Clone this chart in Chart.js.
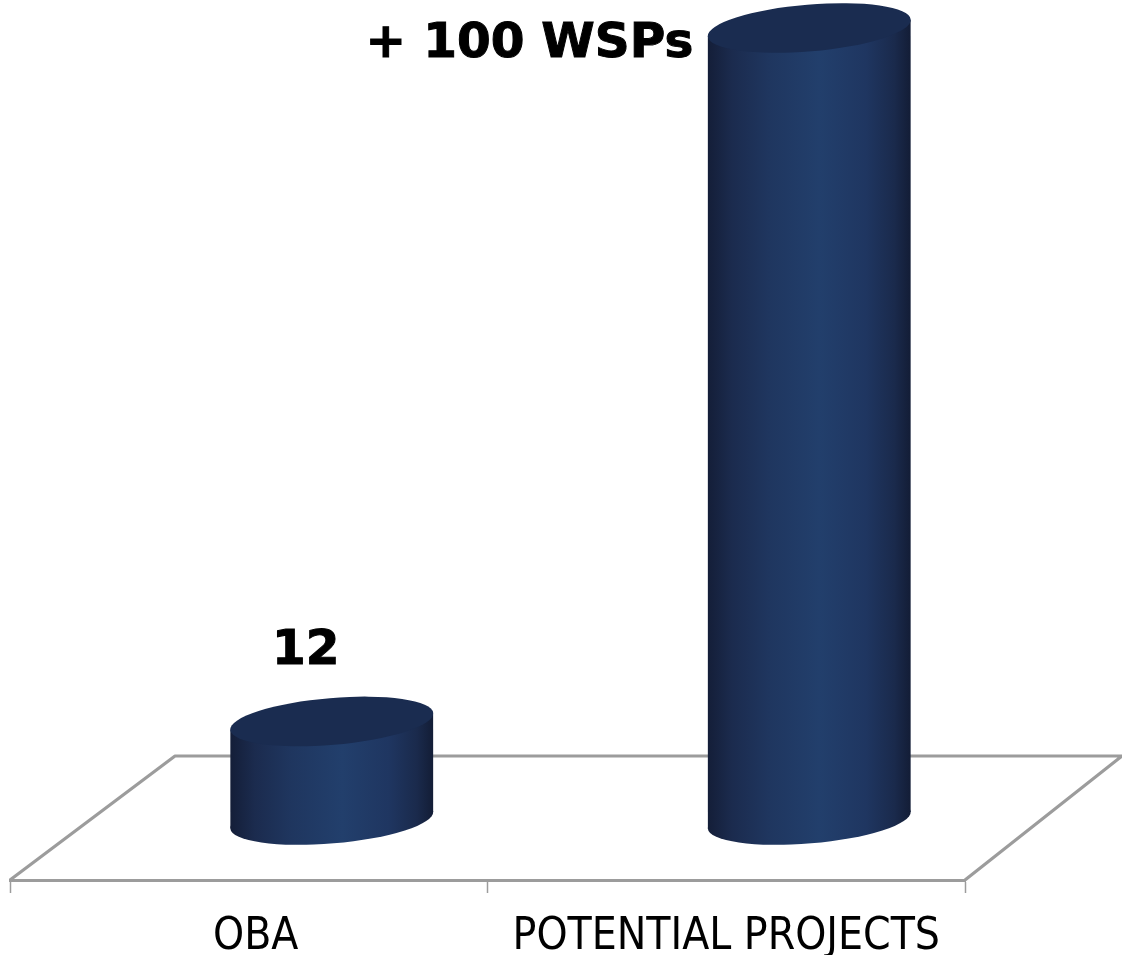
<!DOCTYPE html>
<html>
<head>
<meta charset="utf-8">
<style>html,body{margin:0;padding:0;background:#fff}canvas{display:block}</style>
<script src="https://cdn.jsdelivr.net/npm/chart.js@4/dist/chart.umd.min.js"></script>
</head>
<body>
<canvas id="c" width="1122" height="955"></canvas>
<script>
const categories = ['OBA', 'POTENTIAL PROJECTS'];
const values = [12, 100];
const valueLabels = ['12', '+ 100 WSPs'];

const DEPTH_X = 83, BASE_DROP = 4, ELL_A = 101.8, ELL_B = 23.4, ELL_ROT = -4.8 * Math.PI / 180, X_EXT = 101.4, TILT = 8;
const GRID = '#9c9c9c';

const scene = {
  id: 'scene',
  beforeDraw(chart) {
    const x = chart.scales.x, items = x.getLabelItems(chart.chartArea), shift = [7, 0];
    items.forEach((it, i) => { it.options.translation[0] = x.getPixelForTick(i) + shift[i]; });
  },
  beforeDatasetsDraw(chart) {
    const { ctx, chartArea: a } = chart;
    const backY = 756, backL = a.left + 165, backR = a.right + 157;
    ctx.save();
    ctx.strokeStyle = GRID; ctx.lineWidth = 3.2; ctx.lineJoin = 'round';
    ctx.beginPath();
    ctx.moveTo(a.left, a.bottom); ctx.lineTo(backL, backY); ctx.lineTo(backR, backY);
    ctx.moveTo(a.right, a.bottom); ctx.lineTo(backR, backY);
    ctx.stroke();
    ctx.restore();
  },
  afterDatasetsDraw(chart) {
    const { ctx } = chart;
    const meta = chart.getDatasetMeta(0);
    meta.data.forEach((bar, i) => {
      const cx = bar.x + DEPTH_X, top = bar.y, bottom = bar.base + BASE_DROP;
      const g = ctx.createLinearGradient(cx - X_EXT, 0, cx + X_EXT, 0);
      g.addColorStop(0, '#141e38'); g.addColorStop(0.12, '#1b2b4e'); g.addColorStop(0.3, '#1f365f');
      g.addColorStop(0.55, '#223f6c'); g.addColorStop(0.78, '#1f3661'); g.addColorStop(0.92, '#1a2a4c'); g.addColorStop(1, '#131d36');
      ctx.save();
      ctx.fillStyle = g;
      ctx.beginPath();
      ctx.ellipse(cx, bottom, ELL_A, ELL_B, ELL_ROT, 0, Math.PI * 2);
      ctx.fill();
      ctx.beginPath();
      ctx.moveTo(cx - X_EXT, top + TILT); ctx.lineTo(cx + X_EXT, top - TILT);
      ctx.lineTo(cx + X_EXT, bottom - TILT); ctx.lineTo(cx - X_EXT, bottom + TILT);
      ctx.closePath(); ctx.fill();
      ctx.fillStyle = '#1a2c50';
      ctx.beginPath();
      ctx.ellipse(cx, top, ELL_A, ELL_B, ELL_ROT, 0, Math.PI * 2);
      ctx.fill();
      ctx.restore();
    });
    ctx.save();
    ctx.fillStyle = '#000'; ctx.strokeStyle = '#000'; ctx.lineWidth = 1;
    ctx.font = 'bold 48.5px "DejaVu Sans"';
    ctx.textBaseline = 'alphabetic';
    ctx.textAlign = 'center';
    const x0 = meta.data[0].x + 57, y0 = meta.data[0].y - 57;
    ctx.fillText(valueLabels[0], x0, y0); ctx.strokeText(valueLabels[0], x0, y0);
    ctx.textAlign = 'right';
    const x1 = meta.data[1].x - 33, y1 = meta.data[1].y + 29;
    ctx.fillText(valueLabels[1], x1, y1); ctx.strokeText(valueLabels[1], x1, y1);
    ctx.restore();
  }
};

new Chart(document.getElementById('c'), {
  type: 'bar',
  data: { labels: categories, datasets: [{ data: values, backgroundColor: 'rgba(0,0,0,0)', borderWidth: 0, barPercentage: 0.42, categoryPercentage: 1 }] },
  plugins: [scene],
  options: {
    responsive: false, animation: false, devicePixelRatio: 1,
    layout: { padding: { left: 10, right: 157, top: 0, bottom: 0 } },
    plugins: { legend: { display: false }, tooltip: { enabled: false }, title: { display: false } },
    scales: {
      x: {
        afterFit(s) { s.height = 75; },
        border: { display: true, color: GRID, width: 3 },
        grid: { drawOnChartArea: false, drawTicks: true, tickLength: 13, tickColor: GRID, tickWidth: 1.5 },
        ticks: { color: '#000', font: { family: '"DejaVu Sans Condensed","DejaVu Sans"', size: 44 }, padding: 18, maxRotation: 0, autoSkip: false }
      },
      y: { display: false, min: -8.12, max: 103.55 }
    }
  }
});
</script>
</body>
</html>
